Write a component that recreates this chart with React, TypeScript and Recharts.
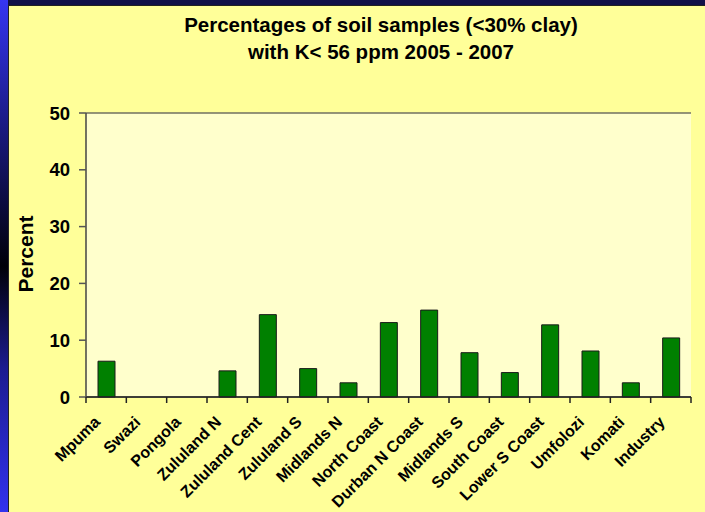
import React from 'react';
import { BarChart, Bar, XAxis, YAxis, CartesianGrid } from 'recharts';

const categories = ['Mpuma', 'Swazi', 'Pongola', 'Zululand N', 'Zululand Cent', 'Zululand S', 'Midlands N', 'North Coast', 'Durban N Coast', 'Midlands S', 'South Coast', 'Lower S Coast', 'Umfolozi', 'Komati', 'Industry'];
const percentValues = [6.3, 0, 0, 4.6, 14.5, 5.0, 2.5, 13.1, 15.3, 7.8, 4.3, 12.7, 8.1, 2.5, 10.4];
const yTicks = [0, 10, 20, 30, 40, 50];
const titleLines = ['Percentages of soil samples (<30% clay)', 'with K< 56 ppm 2005 - 2007'];

const data = categories.map((name, i) => ({ name, value: percentValues[i] }));

const FONT = '"Liberation Sans", Arial, Helvetica, sans-serif';

const CatTick = (props: any) => {
  const { x, y, payload, index } = props;
  const half = payload && typeof payload.offset === 'number' ? payload.offset : 0;
  const ax = x - 5;
  const ay = y + 26;
  const isLast = index === categories.length - 1;
  return (
    <g>
      <line x1={x - half} x2={x - half} y1={y} y2={y + 6} stroke="#222" strokeWidth={1.5} />
      {isLast && <line x1={x + half} x2={x + half} y1={y} y2={y + 6} stroke="#222" strokeWidth={1.5} />}
      <text
        x={ax}
        y={ay}
        transform={`rotate(-45, ${ax}, ${ay})`}
        textAnchor="end"
        fontFamily={FONT}
        fontWeight="bold"
        fontSize={16}
        fill="#000"
      >
        {payload.value}
      </text>
    </g>
  );
};

const PercentLabel = (props: any) => {
  const vb = props.viewBox || { x: 0, y: 0, width: 0, height: 0 };
  const cx = vb.x + 33;
  const cy = vb.y + vb.height / 2 - 1;
  return (
    <text
      x={cx}
      y={cy}
      transform={`rotate(-90, ${cx}, ${cy})`}
      textAnchor="middle"
      fontFamily={FONT}
      fontWeight="bold"
      fontSize={21}
      fill="#000"
    >
      Percent
    </text>
  );
};

export default function App() {
  return (
    <div
      style={{
        position: 'absolute',
        left: 0,
        top: 0,
        width: 705,
        height: 512,
        overflow: 'hidden',
        background: 'linear-gradient(to bottom, #3636f2 0%, #1a1a80 25%, #000008 52%, #1c1c90 72%, #3232ee 100%)',
      }}
    >
      <div style={{ position: 'absolute', left: 8, top: 0, width: 697, height: 5, background: '#111148' }} />
      <div
        style={{
          position: 'absolute',
          left: 8,
          top: 5,
          width: 697,
          height: 507,
          background: '#FFFF99',
          borderLeft: '1px solid #222',
          borderTop: '1px solid #222',
          boxSizing: 'border-box',
        }}
      />
      <div
        style={{
          position: 'absolute',
          left: 57,
          top: 11,
          width: 648,
          textAlign: 'center',
          fontFamily: FONT,
          fontWeight: 'bold',
          fontSize: 20.5,
          lineHeight: '27px',
          color: '#000',
          whiteSpace: 'nowrap',
        }}
      >
        {titleLines.map((t) => (
          <div key={t}>{t}</div>
        ))}
      </div>
      <div style={{ position: 'absolute', left: 0, top: 0 }}>
        <BarChart
          width={705}
          height={512}
          data={data}
          margin={{ top: 113, right: 14, bottom: 0, left: 0 }}
          barCategoryGap="20%"
        >
          <CartesianGrid vertical={false} stroke="#707062" strokeWidth={1.5} fill="#FFFFCC" />
          <XAxis
            xAxisId="cat"
            dataKey="name"
            height={115}
            axisLine={{ stroke: '#222', strokeWidth: 1.5 }}
            tickLine={false}
            tickSize={0}
            tickMargin={0}
            interval={0}
            tick={<CatTick />}
          />
          <YAxis
            yAxisId="left"
            width={86}
            domain={[0, 50]}
            ticks={yTicks}
            tickSize={7}
            tickMargin={9}
            tick={{ fontFamily: FONT, fontWeight: 'bold', fontSize: 18.5, fill: '#000' }}
            tickLine={{ stroke: '#555', strokeWidth: 1.5 }}
            axisLine={{ stroke: '#444', strokeWidth: 1.5 }}
            label={<PercentLabel />}
          />
          <YAxis
            yAxisId="right"
            orientation="right"
            width={0}
            domain={[0, 50]}
            tick={false}
            tickLine={false}
            axisLine={{ stroke: '#8a8a80', strokeWidth: 1.5 }}
          />
          <Bar
            dataKey="value"
            xAxisId="cat"
            yAxisId="left"
            fill="#008000"
            stroke="#1a1a1a"
            strokeWidth={1}
            barSize={17}
            isAnimationActive={false}
          />
        </BarChart>
      </div>
    </div>
  );
}
